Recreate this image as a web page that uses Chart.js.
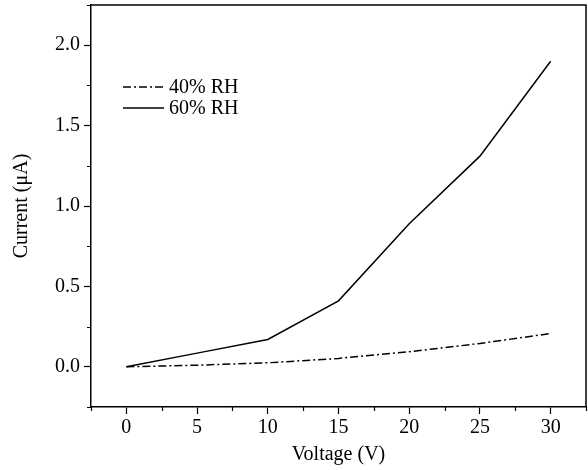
<!DOCTYPE html>
<html>
<head>
<meta charset="utf-8">
<script src="https://cdn.jsdelivr.net/npm/chart.js@4/dist/chart.umd.min.js"></script>
<style>
  html, body { margin: 0; padding: 0; background: #fff; }
  #wrap { width: 588px; height: 470px; }
</style>
</head>
<body>
<div id="wrap"><canvas id="iv"></canvas></div>
<script>
const voltage = [0, 5, 10, 15, 20, 25, 30];
const current40 = [0, 0.01, 0.025, 0.052, 0.094, 0.145, 0.207];
const current60 = [0, 0.085, 0.17, 0.41, 0.89, 1.31, 1.90];
const seriesLabels = ['40% RH', '60% RH'];
const xTicks = [-2.5, 0, 2.5, 5, 7.5, 10, 12.5, 15, 17.5, 20, 22.5, 25, 27.5, 30, 32.5];
const yTicks = [-0.25, 0, 0.25, 0.5, 0.75, 1.0, 1.25, 1.5, 1.75, 2.0, 2.25];

const FONT = 'Liberation Serif, Times New Roman, serif';

const toPoints = (ys) => voltage.map((v, i) => ({ x: v, y: ys[i] }));
const isMajor = (v, step) => Math.abs(v / step - Math.round(v / step)) < 1e-6;

// frame on top/right, short minor ticks, legend inside the plot
const frameAndMinor = {
    id: 'frameAndMinor',
    afterDraw(chart) {
        const { ctx, chartArea: a, scales } = chart;
        ctx.save();
        ctx.strokeStyle = '#000';
        ctx.lineWidth = 1.5;
        ctx.beginPath();
        ctx.moveTo(a.left, a.top);
        ctx.lineTo(a.right, a.top);
        ctx.lineTo(a.right, a.bottom);
        ctx.stroke();

        ctx.lineWidth = 1.2;
        ctx.beginPath();
        xTicks.filter(v => !isMajor(v, 5)).forEach(v => {
            const px = Math.round(scales.x.getPixelForValue(v)) + 0.5;
            ctx.moveTo(px, a.bottom);
            ctx.lineTo(px, a.bottom + 4);
        });
        yTicks.filter(v => !isMajor(v, 0.5)).forEach(v => {
            const py = Math.round(scales.y.getPixelForValue(v)) + 0.5;
            ctx.moveTo(a.left, py);
            ctx.lineTo(a.left - 4, py);
        });
        ctx.stroke();

        ctx.font = '20px ' + FONT;
        ctx.textBaseline = 'middle';
        ctx.fillStyle = '#000';
        chart.data.datasets.forEach((ds, i) => {
            const y = 87 + i * 21;
            ctx.lineWidth = 1.5;
            ctx.setLineDash(ds.borderDash || []);
            ctx.beginPath();
            ctx.moveTo(123, y);
            ctx.lineTo(164, y);
            ctx.stroke();
            ctx.setLineDash([]);
            ctx.fillText(ds.label, 169, y + 1);
        });
        ctx.restore();
    }
};

new Chart(document.getElementById('iv'), {
    type: 'line',
    data: {
        datasets: [
            {
                label: seriesLabels[0],
                data: toPoints(current40),
                borderColor: '#000',
                borderWidth: 1.5,
                borderDash: [8, 3, 2, 3],
                pointRadius: 0,
                tension: 0
            },
            {
                label: seriesLabels[1],
                data: toPoints(current60),
                borderColor: '#000',
                borderWidth: 1.5,
                pointRadius: 0,
                tension: 0
            }
        ]
    },
    plugins: [frameAndMinor],
    options: {
        responsive: true,
        maintainAspectRatio: false,
        animation: false,
        layout: { padding: { left: 0, top: 5, right: 2, bottom: 0 } },
        plugins: {
            legend: { display: false },
            tooltip: { enabled: false }
        },
        scales: {
            x: {
                type: 'linear',
                min: -2.5,
                max: 32.5,
                afterBuildTicks: (scale) => { scale.ticks = xTicks.map(v => ({ value: v })); },
                afterFit: (scale) => {
                    scale.height = 63;
                    scale.paddingLeft = 0;
                    scale.paddingRight = 0;
                },
                ticks: {
                    padding: 2,
                    color: '#000',
                    font: { family: FONT, size: 20 },
                    callback: (value) => (isMajor(value, 5) ? value : '')
                },
                grid: {
                    drawOnChartArea: false,
                    tickLength: 7,
                    tickWidth: 1.2,
                    tickColor: (c) => (c.tick && isMajor(c.tick.value, 5) ? '#000' : 'rgba(0,0,0,0)')
                },
                border: { color: '#000', width: 1.5 },
                title: {
                    display: true,
                    text: 'Voltage (V)',
                    color: '#000',
                    font: { family: FONT, size: 20 },
                    padding: { top: 0, bottom: 3 }
                }
            },
            y: {
                min: -0.25,
                max: 2.25,
                afterBuildTicks: (scale) => { scale.ticks = yTicks.map(v => ({ value: v })); },
                afterFit: (scale) => {
                    scale.width = 91;
                    scale.paddingTop = 0;
                    scale.paddingBottom = 0;
                },
                ticks: {
                    padding: 4,
                    color: '#000',
                    font: { family: FONT, size: 20 },
                    callback: (value) => (isMajor(value, 0.5) ? value.toFixed(1) : '')
                },
                grid: {
                    drawOnChartArea: false,
                    tickLength: 7,
                    tickWidth: 1.2,
                    tickColor: (c) => (c.tick && isMajor(c.tick.value, 0.5) ? '#000' : 'rgba(0,0,0,0)')
                },
                border: { color: '#000', width: 1.5 },
                title: {
                    display: true,
                    text: 'Current (μA)',
                    color: '#000',
                    font: { family: FONT, size: 20 },
                    padding: { top: 10, bottom: 0 }
                }
            }
        }
    }
});
</script>
</body>
</html>
